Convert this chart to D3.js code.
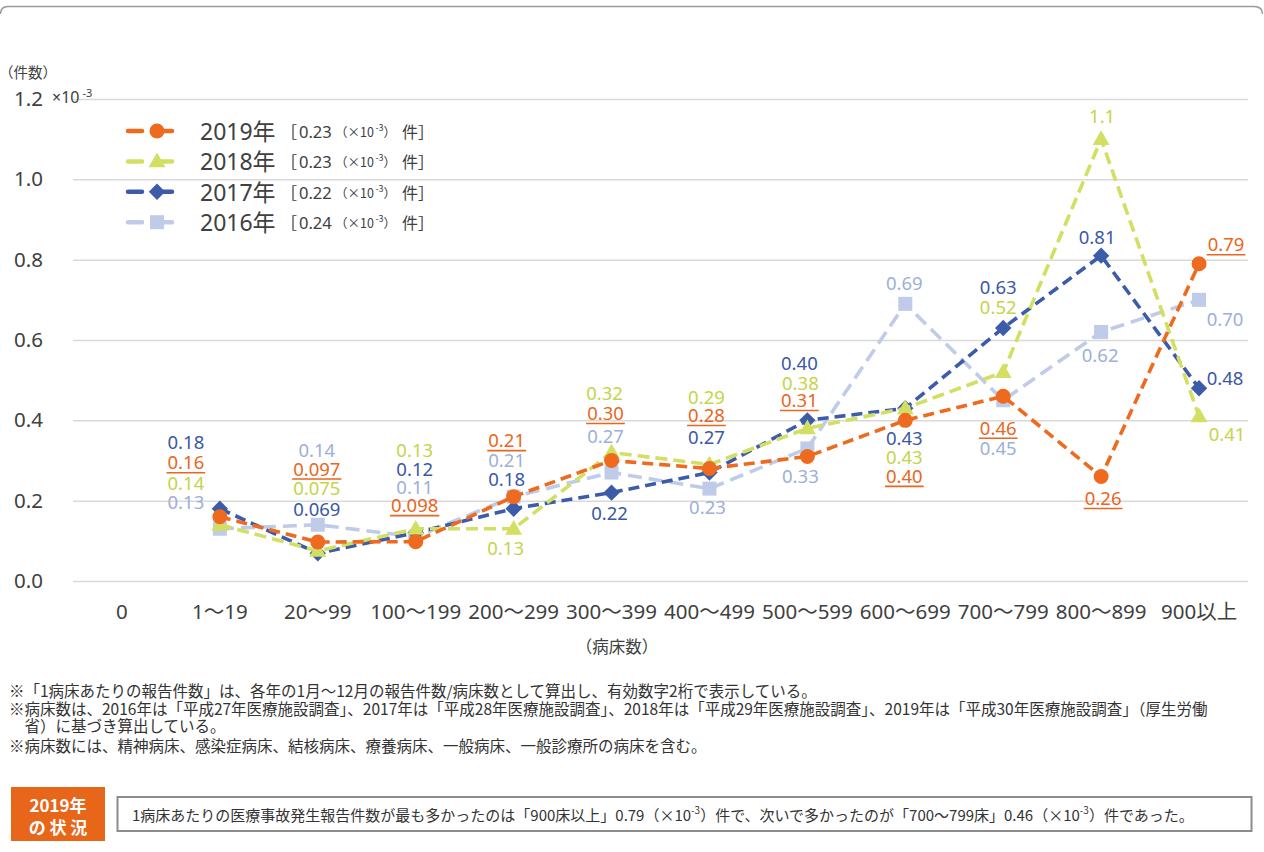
<!DOCTYPE html>
<html><head><meta charset="utf-8">
<script src="https://cdn.jsdelivr.net/npm/d3@7"></script>
<style>
body{margin:0;background:#fff;}
svg{display:block;}
</style></head><body>
<svg id="c" width="1264" height="852"></svg>
<script>
// ---------- data ----------
const categories = ["0","1～19","20～99","100～199","200～299","300～399","400～499","500～599","600～699","700～799","800～899","900以上"];
const years = ["2019年","2018年","2017年","2016年"];
const averages = ["0.23","0.23","0.22","0.24"];
const v2019 = [null,0.16,0.097,0.098,0.21,0.30,0.28,0.31,0.40,0.46,0.26,0.79];
const v2018 = [null,0.14,0.075,0.13,0.13,0.32,0.29,0.38,0.43,0.52,1.1,0.41];
const v2017 = [null,0.18,0.069,0.12,0.18,0.22,0.27,0.40,0.43,0.63,0.81,0.48];
const v2016 = [null,0.13,0.14,0.11,0.21,0.27,0.23,0.33,0.69,0.45,0.62,0.70];
const yTicks = [0,0.2,0.4,0.6,0.8,1.0,1.2];

const notes = [
  "※「1病床あたりの報告件数」は、各年の1月～12月の報告件数/病床数として算出し、有効数字2桁で表示している。",
  "※病床数は、2016年は「平成27年医療施設調査」、2017年は「平成28年医療施設調査」、2018年は「平成29年医療施設調査」、2019年は「平成30年医療施設調査」（厚生労働",
  "　省）に基づき算出している。",
  "※病床数には、精神病床、感染症病床、結核病床、療養病床、一般病床、一般診療所の病床を含む。"
];

// ---------- label layout (pixel offsets from each point) ----------
const off2019 = [null,[-34,-55],[-1,-74],[-1,-37],[-7,-57],[-6,-48],[-3,-54],[-8,-57],[-1,55],[-5,31],[2,21],[27,-20]];
const off2018 = [null,[-34,-42],[-1,-63],[-1,-79],[-8,19],[-7,-60],[-3,-68],[-7,-46],[-1,48],[-5,-66],[1,-24],[28,17]];
const off2017 = [null,[-34,-67],[-1,-45],[-1,-64],[-7,-30],[-2,20],[-3,-36],[-8,-58],[-1,29],[-5,-41],[-4,-19],[26,-11]];
const off2016 = [null,[-34,-27],[-1,-75],[-1,-50],[-7,-37],[-6,-37],[-2,18],[-7,27],[-1,-21],[-5,47],[-1,23],[26,19]];

const series = [
  {name:years[3], avg:averages[3], values:v2016, off:off2016, line:"#BFCBE8", label:"#9CAFD9", marker:"square", dash:"14,7", underline:false},
  {name:years[2], avg:averages[2], values:v2017, off:off2017, line:"#3C5BA9", label:"#3A58A6", marker:"diamond", dash:"11,6", underline:false},
  {name:years[1], avg:averages[1], values:v2018, off:off2018, line:"#D2DF63", label:"#C3D548", marker:"triangle", dash:"12,6", underline:false},
  {name:years[0], avg:averages[0], values:v2019, off:off2019, line:"#ED6A1F", label:"#E9661E", marker:"circle", dash:"11,6", underline:true}
];

const svg = d3.select("#c");
const LAT = "'Noto Sans', 'Noto Sans CJK JP', sans-serif";
const JP = "'Noto Sans CJK JP', 'Noto Sans', sans-serif";
const TXT = "#404040";

// top frame
svg.append("path").attr("d","M0.5,14 Q0.5,6.5 8,6.5 H1254 Q1262.5,6.5 1262.5,14")
  .attr("fill","none").attr("stroke","#9a9a9a").attr("stroke-width",1.5);

const left = 73, right = 1248;
const x = d3.scaleBand().domain(categories).range([left, right]);
const cx = c => x(c) + x.bandwidth()/2;
const y = d3.scaleLinear().domain([0,1.2]).range([581, 99]);

// y axis with grid
const gy = svg.append("g").attr("transform",`translate(${left},0)`)
  .call(d3.axisLeft(y).tickValues(yTicks).tickFormat(d3.format(".1f")).tickSize(-(right-left)).tickPadding(30));
gy.select(".domain").remove();
gy.selectAll(".tick line").attr("stroke","#d9d9d9").attr("stroke-width",1.5);
gy.selectAll(".tick text").attr("font-family",LAT).attr("font-size",20.5).attr("fill",TXT);

// x axis
const gx = svg.append("g").attr("transform","translate(0,581)")
  .call(d3.axisBottom(x).tickSize(0));
gx.select(".domain").remove();
gx.selectAll(".tick text").attr("y",31).attr("dy","0.35em")
  .attr("font-family",LAT).attr("font-size",20.5).attr("fill",TXT);

// axis titles
svg.append("text").attr("x",-1).attr("y",71).attr("dominant-baseline","central")
  .attr("font-family",JP).attr("font-size",14.5).attr("fill",TXT).text("（件数）");
const ex = svg.append("text").attr("x",52).attr("y",97).attr("dominant-baseline","central")
  .attr("font-family",LAT).attr("font-size",16).attr("fill",TXT);
ex.append("tspan").text("×10");
ex.append("tspan").attr("dx",3).attr("dy",-5).attr("font-size",11).text("-3");
svg.append("text").attr("x",617).attr("y",646).attr("text-anchor","middle").attr("dominant-baseline","central")
  .attr("font-family",JP).attr("font-size",16.5).attr("fill",TXT).text("（病床数）");

// marker drawer
function marker(g, type, color, px, py){
  if(type==="circle") g.append("circle").attr("cx",px).attr("cy",py).attr("r",7.5).attr("fill",color);
  else if(type==="triangle") g.append("path").attr("transform",`translate(${px},${py+1})`)
      .attr("d",d3.symbol(d3.symbolTriangle,125)()).attr("fill",color);
  else if(type==="diamond") g.append("path").attr("transform",`translate(${px},${py}) rotate(45)`)
      .attr("d","M-5.8,-5.8H5.8V5.8H-5.8Z").attr("fill",color);
  else g.append("rect").attr("x",px-7).attr("y",py-7).attr("width",14).attr("height",14).attr("fill",color);
}

// lines + markers
const fmt = d3.format(".2r");
const lineGen = d3.line().defined(d=>d.v!=null).x(d=>cx(d.c)).y(d=>y(d.v));
series.forEach(s=>{
  const pts = categories.map((c,i)=>({c, v:s.values[i], i}));
  const g = svg.append("g");
  g.append("path").datum(pts).attr("d",lineGen).attr("fill","none")
    .attr("stroke",s.line).attr("stroke-width",3.6).attr("stroke-dasharray",s.dash);
  pts.filter(d=>d.v!=null).forEach(d=>marker(g, s.marker, s.line, cx(d.c), y(d.v)));
});

// data labels
series.forEach(s=>{
  const g = svg.append("g");
  categories.forEach((c,i)=>{
    const v = s.values[i]; if(v==null) return;
    const o = s.off[i];
    const t = g.append("text").attr("x",cx(c)+o[0]).attr("y",y(v)+o[1])
      .attr("text-anchor","middle").attr("dominant-baseline","central")
      .attr("font-family",LAT).attr("font-size",18.5).attr("fill",s.label).text(fmt(v));
    if(s.underline){
      const w = t.node().getComputedTextLength();
      g.append("line").attr("x1",cx(c)+o[0]-w/2-1).attr("x2",cx(c)+o[0]+w/2+1)
        .attr("y1",y(v)+o[1]+11).attr("y2",y(v)+o[1]+11).attr("stroke",s.label).attr("stroke-width",1.6);
    }
  });
});

// legend
const legendOrder = [series[3],series[2],series[1],series[0]];
legendOrder.forEach((s,k)=>{
  const ly = 131 + k*30.4;
  const g = svg.append("g");
  g.append("line").attr("x1",128).attr("x2",186).attr("y1",ly).attr("y2",ly)
    .attr("stroke",s.line).attr("stroke-width",4.5).attr("stroke-dasharray","14,16").attr("stroke-linecap","round");
  marker(g, s.marker, s.line, 157, ly);
  g.append("text").attr("x",200).attr("y",ly).attr("dominant-baseline","central")
    .attr("font-family",LAT).attr("font-size",23).attr("fill",TXT).text(s.name);
  const t = g.append("text").attr("y",ly).attr("dominant-baseline","central")
    .attr("font-family",JP).attr("font-size",16).attr("fill",TXT);
  t.append("tspan").attr("x",281).text("［");
  t.append("tspan").attr("x",299).attr("font-family",LAT).attr("font-size",16.5).text(s.avg);
  t.append("tspan").attr("x",335).attr("font-size",12.5).text("（×10");
  t.append("tspan").attr("font-size",9).attr("dx",1.5).attr("dy",-4).text("-3");
  t.append("tspan").attr("font-size",12.5).attr("dy",4).text("）");
  t.append("tspan").attr("x",402).text("件");
  t.append("tspan").attr("x",418).text("］");
});

// notes
const noteY = [690, 708, 725, 745];
notes.forEach((n,i)=>{
  svg.append("text").attr("x",9).attr("y",noteY[i]).attr("dominant-baseline","central")
    .attr("font-family",JP).attr("font-size",15.5).attr("fill","#333").text(n);
});

// bottom summary
svg.append("rect").attr("x",11).attr("y",787).attr("width",94).attr("height",54).attr("fill","#E8661A");
svg.append("text").attr("x",58).attr("y",804).attr("text-anchor","middle").attr("dominant-baseline","central")
  .attr("font-family",JP).attr("font-weight","bold").attr("font-size",17).attr("fill","#fff").text("2019年");
svg.append("text").attr("x",58).attr("y",826).attr("text-anchor","middle").attr("dominant-baseline","central")
  .attr("font-family",JP).attr("font-weight","bold").attr("font-size",17).attr("fill","#fff").text("の 状 況");
svg.append("rect").attr("x",117.5).attr("y",797).attr("width",1134).attr("height",34)
  .attr("fill","#fff").attr("stroke","#8c8c8c").attr("stroke-width",2);
const bt = svg.append("text").attr("x",132).attr("y",814).attr("dominant-baseline","central")
  .attr("font-family",JP).attr("font-size",15).attr("fill","#333");
bt.append("tspan").text("1病床あたりの医療事故発生報告件数が最も多かったのは「900床以上」0.79（×10");
bt.append("tspan").attr("font-size",10).attr("dy",-5).text("-3");
bt.append("tspan").attr("dy",5).text("）件で、次いで多かったのが「700～799床」0.46（×10");
bt.append("tspan").attr("font-size",10).attr("dy",-5).text("-3");
bt.append("tspan").attr("dy",5).text("）件であった。");
</script>
</body></html>
